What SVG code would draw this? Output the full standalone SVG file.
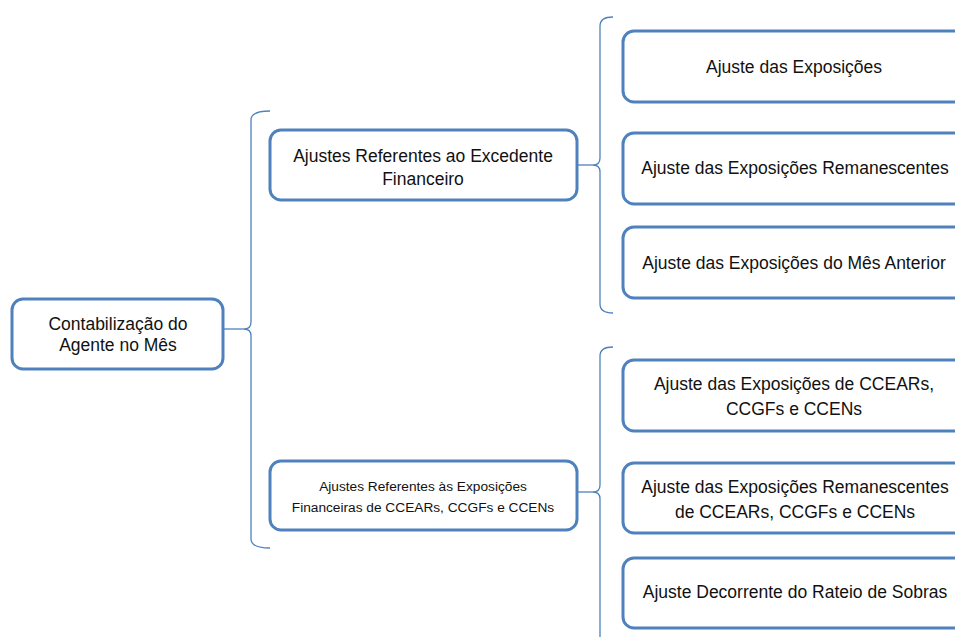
<svg xmlns="http://www.w3.org/2000/svg" width="955" height="637" viewBox="0 0 955 637">
<style>
.box{fill:#fff;stroke:#4F81BD;stroke-width:3}
.br{fill:none;stroke:#4F81BD;stroke-width:1.3}
text{font-family:"Liberation Sans",Arial,sans-serif;font-size:17.5px;fill:#111;text-anchor:middle}
.sm{font-size:13.7px}
</style>
<rect width="955" height="637" fill="#fff"/>
<g id="connectors">
<path class="br" d="M270,111 Q251,111 251,120 L251,322 Q251,329 244,329 Q251,329 251,336 L251,539 Q251,548 270,548"/>
<line class="br" x1="224" y1="329" x2="244" y2="329"/>
<path class="br" d="M613,17 Q600,17 600,26 L600,158 Q600,165 593,165 Q600,165 600,172 L600,304 Q600,313 613,313"/>
<line class="br" x1="577" y1="165" x2="593" y2="165"/>
<path class="br" d="M613,347 Q600,347 600,356 L600,485 Q600,492 593,492 Q600,492 600,499 L600,640"/>
<line class="br" x1="577" y1="492" x2="593" y2="492"/>
</g>
<g id="root">
<rect class="box" x="12" y="299" width="211" height="70" rx="11"/>
<text x="118" y="330">Contabilização do</text>
<text x="118" y="351">Agente no Mês</text>
</g>
<g id="excedente">
<rect class="box" x="270" y="130" width="307" height="70" rx="11"/>
<text x="423" y="162">Ajustes Referentes ao Excedente</text>
<text x="423" y="185">Financeiro</text>
</g>
<g id="exposicoes-ccear">
<rect class="box" x="270" y="461" width="307" height="69" rx="11"/>
<text class="sm" x="423" y="491">Ajustes Referentes às Exposições</text>
<text class="sm" x="423" y="512">Financeiras de CCEARs, CCGFs e CCENs</text>
</g>
<g id="aj1">
<rect class="box" x="623" y="31" width="345" height="71" rx="11"/>
<text x="794" y="73">Ajuste das Exposições</text>
</g>
<g id="aj2">
<rect class="box" x="623" y="133" width="345" height="71" rx="11"/>
<text x="795" y="174">Ajuste das Exposições Remanescentes</text>
</g>
<g id="aj3">
<rect class="box" x="623" y="227" width="345" height="71" rx="11"/>
<text x="794" y="269">Ajuste das Exposições do Mês Anterior</text>
</g>
<g id="aj4">
<rect class="box" x="623" y="360" width="345" height="71" rx="11"/>
<text x="794" y="390">Ajuste das Exposições de CCEARs,</text>
<text x="794" y="415">CCGFs e CCENs</text>
</g>
<g id="aj5">
<rect class="box" x="623" y="463" width="345" height="70" rx="11"/>
<text x="795" y="493">Ajuste das Exposições Remanescentes</text>
<text x="795" y="518">de CCEARs, CCGFs e CCENs</text>
</g>
<g id="aj6">
<rect class="box" x="623" y="558" width="345" height="70" rx="11"/>
<text x="795" y="598">Ajuste Decorrente do Rateio de Sobras</text>
</g>
</svg>
